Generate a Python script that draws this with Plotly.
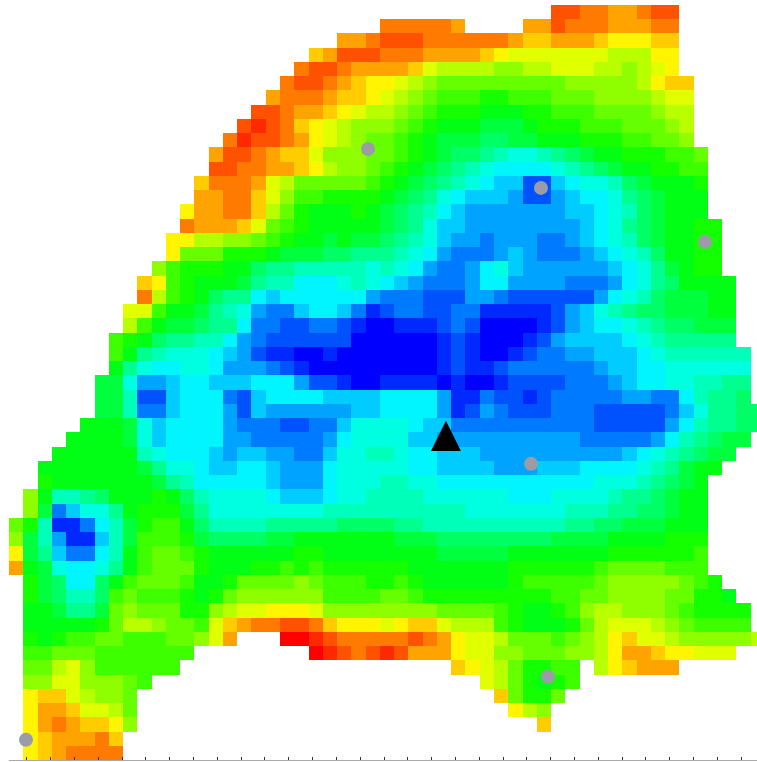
import plotly.graph_objects as go

# Grid values, one string per row, one letter per cell:
# A = lowest (blue) ... Z = highest (red), "." = no data
ROWS = [
    "."*38 + "XXWWVVWXX",
    "."*26 + "WWWWWV" + "."*4 + "VVXWWWVVVWW",
    "."*23 + "VVWXXXWWWWWWVUUVVVUTTTUU",
    "."*21 + "UVXXXWWWVVVVUTSSSSSSSRRRTT",
    "."*20 + "WXXWVV" + "VVUSRRRRQQRRSSSRRQRST",
    "."*19 + "WXXWVUT" + "TSRQPPPPPPPPPQQQQQRTUU",
    "."*18 + "VWWWVUUT" + "SRQPOOONNOOOPPPQQQQRSS",
    "."*17 + "XXWVVUTSR" + "RQPONNNMMMNNOOOPPPPQRR",
    "."*16 + "XYXWUTSRQQ" + "QPONMMMLLLMNNNOOOPPPQR",
    "."*15 + "WYXXWVTSRQP" + "PONMLLLKKLLMMMNNNOOPPQ",
    "."*14 + "VXXWVUUSQQQP" + "PONMLKKJIHHIJKLMMNNNOOP",
    "."*14 + "XXWWVVUTRQQP" + "ONMLKJIHGGGGHIJKLMMNNOO",
    "."*13 + "UWWWVSRPPPPPO" + "NMLKJIHGFFCCFGHHIKLMMMN",
    "."*13 + "VVWWUSQOONNNN" + "MLKJHGFFFECCEFGGHJKLMMM",
    "."*12 + "TVVWWURPNMMMNM" + "LKJIGFEEEEEEEFFGHIKLMMM",
    "."*12 + "WVVVUSPONMMMMM" + "LKJHFFEEEEEEEEFGHJKLMMNN",
    "."*11 + "TTRRQQPONMMLMLL" + "KJIHFEEDEEEDDEFGHIKLMMNN",
    "."*11 + "TPPPNNNMLLLKKJJ" + "JIHGEDDDEFEDDDEFGHIKMMNN",
    "."*10 + "QONNNMMKJJIIIIIH" + "IHGEDDEGHFEEEEEEFGHJLMNN",
    "."*9 + "UTONMMMLJIIGGGHIH" + "GFEDDDEGGEEEEDDDEGHJKMMMM",
    "."*9 + "WRONMKJJGFGGGGGGE" + "DDDCCCEEDCCCCCCEGHIKLLLMM",
    "."*8 + "SSOMMLJIHEDDFGGFDB" + "CDDCCDDBBBBBCEFHIJKKLLLMM",
    "."*8 + "ROMLLKJJGDDCCDDCBA" + "ABBBCDCAAAABCEFGGHIJKKLLL",
    "."*7 + "ONMKJJIIGEDCCCCCCAA" + "AAAABCBAAABCEFFFFGHIJJJJJ",
    "."*7 + "OMJIHHHGFECBBAABAAA" + "AAAABCBAABCDDEEFFFGHIIIIII",
    "."*7 + "MJHGGHHGEEEDCBAAAAA" + "AAAABCBBCDDDDDDEFFGGHHHHHH",
    "."*6 + "LLHEEFGGFFFGGGECCBAA" + "BBBBABAABCCCCDDDEFGGHHIIJJ",
    "."*6 + "LLICCFGGGDCFGGGGFFFF" + "GGGGEBBDCCBCDDDDDEEDDGIJJK",
    "."*6 + "LLIDDFGGGECFEEEEEEFF" + "GGGGEBCEDCCCDDDCCCCCDFHJJKK",
    "."*5 + "MMMLHFGGGGEDDDCCDDFHH" + "HHGFFDDDDDDDDDDCCCCCEGIJJKK",
    "."*4 + "MMMMLHFGGGGEEDDDDDEGHH" + "HHFFEEEEEEEEEEDDDDDEGIJKLL",
    "."*3 + "MMMMMMIHGGGFEFFEEDDFHHI" + "IHGGFFFEEEEEEEEEEFGHIJKLL",
    "."*2 + "MMMMMMMLJHHGFFGGFEEEGHHH" + "HHGGFFFFEEEFFFGGGGHIJLMM",
    "."*2 + "NMMMMMMMLJIGGGGGFEEEGHHH" + "IIHHGGGGGGGGGGGHHHIJKLM",
    "."   + "QMIIJKMMMNMKIHHHHGFFFGHHI" + "IIIHHHHHHGGGHHHHIJJKLMM",
    "."   + "QLDFHHJMNNNLJHHHHHHHHIIII" + "IIIIIIHHHHHHHIIIJJKKLMM",
    "PNIBBDGILNOOMKIIIIJJJJJKKK" + "KJJIIIIIIIIIIJJKKLLLMMM",
    "QLIEBBFILOOONLKKKKLLMMMMMM" + "MLLLKKKKKKKKLLLLMMMMNNN",
    "TLJFDDGIMOPPONMMMMMMNNMMMM" + "MMMMLLLLLMMMMMMMNNNNNNO",
    "VMLHGGHJMOPPPNMMMNNONONNNN" + "NNMMMMMMMNNNNNNOPPPPOOO",
    "."   + "NLKGGKMOPPPOMMNPPPPQPOOON" + "NONMMMMMMNOOOOOPQQQQQPON",
    "."   + "NLKIIKOPOOONMNPQQQQQQOOOO" + "PPONNNNNNNNNOOPPQQQQPPNNM",
    "."   + "MMLJJLPQPPPNNQRSSTTTSQQQQ" + "QQQQPPPPONMMNOQRRQQQPONNNN",
    "."   + "MMMMMNPRRQPPOSUVWWXXWUTTT" + "STUUSRRRONMMMNPRSSSRQPOOOO",
    "."   + "NMNOOPPOOOPPQSV" + "..." + "ZZYXWWW" + "WWXWVTSSRPPPOPQRTUSSRQQQQQR",
    "."   + "OOPPPOOOOOOO" + "."*8 + "ZYXWX" + "YXVVVTSSQQPPPQQRTVVUTTSSS",
    "."   + "PPRSQOOOOOO" + "."*19 + "UTSRPNNOO" + "." + "RTUVVV",
    "."   + "QQSSQQQPO" + "."*23 + "SRPNMNO",
    "."   + "TUUSRQQP" + "."*25 + "UPNNP",
    "."   + "TVVUSSRP" + "."*26 + "TRQ",
    "."   + "TVWVUUTQ" + "."*28 + "U",
    "."   + "TUVVVWU",
    "."   + "TUVWWWW",
]

# Grey sample points and the black station marker, in grid units
POINT_X = [24.66, 36.78, 48.27, 36.08, 37.27, 0.69]
POINT_Y = [9.61, 12.34, 16.13, 31.71, 46.66, 51.08]
STATION_X = 30.12
STATION_Y = 29.75

# Axis ticks along the bottom edge, in grid units
TICK_VALUES = [0.76, 2.43, 4.10, 5.76, 7.43, 9.10, 10.77, 12.44, 14.10, 15.77, 17.44,
               19.11, 20.78, 22.44, 24.11, 25.78, 27.45, 29.12, 30.78, 32.45, 34.12,
               35.79, 37.46, 39.12, 40.79, 42.46, 44.13, 45.80, 47.46, 49.13, 50.80]

N_COLS = 53
z = []
for row in ROWS:
    cells = row.ljust(N_COLS, ".")
    z.append([None if c == "." else ord(c) - ord("A") for c in cells])

fig = go.Figure()
fig.add_trace(go.Heatmap(
    z=z, zmin=0, zmax=25, showscale=False, zsmooth=False,
    colorscale=[[0, "#0000ff"], [0.25, "#00ffff"], [0.5, "#00ff00"],
                [0.75, "#ffff00"], [1, "#ff0000"]],
    hoverongaps=False,
))
fig.add_trace(go.Scatter(
    x=POINT_X, y=POINT_Y, mode="markers", showlegend=False,
    marker=dict(size=14, color="#9b9ca6", line=dict(width=0)),
))
half_w, half_h = 1.05, 1.06
fig.add_trace(go.Scatter(
    x=[STATION_X - half_w, STATION_X, STATION_X + half_w, STATION_X - half_w],
    y=[STATION_Y + half_h, STATION_Y - half_h, STATION_Y + half_h, STATION_Y + half_h],
    mode="lines", fill="toself", fillcolor="#000000",
    line=dict(width=0, color="#000000"), showlegend=False,
))
fig.update_layout(
    width=757, height=762,
    margin=dict(l=9, r=0, t=5, b=2, pad=0),
    paper_bgcolor="white", plot_bgcolor="white",
    showlegend=False,
)
fig.update_xaxes(
    range=[-0.5, 51.92], showgrid=False, zeroline=False, showticklabels=False,
    tickmode="array", tickvals=TICK_VALUES, ticks="inside", ticklen=3, tickwidth=1,
    tickcolor="#333333", showline=True, linecolor="#aaaaaa", linewidth=1, mirror=False,
)
fig.update_yaxes(
    range=[52.5, -0.5], showgrid=False, zeroline=False, showticklabels=False,
    ticks="", showline=False,
)
fig.write_html("out.html", config={"displayModeBar": False},
               post_script="document.body.style.margin='0';document.body.style.overflow='hidden';")
